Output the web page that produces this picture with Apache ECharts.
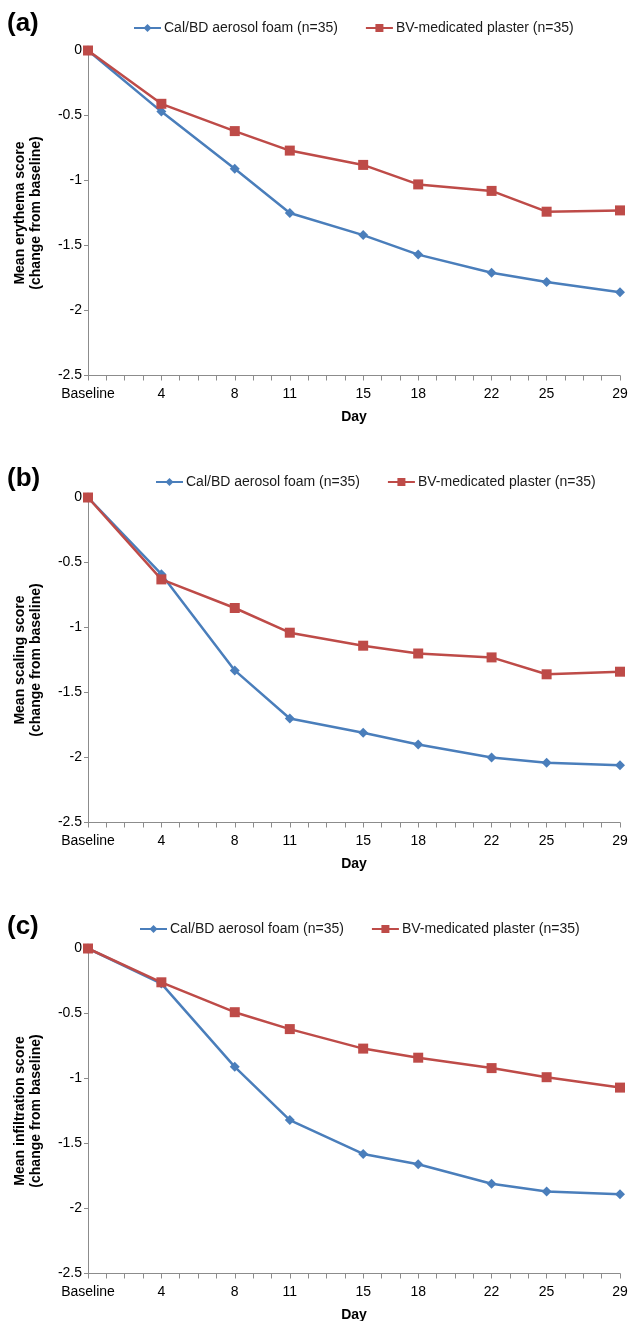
<!DOCTYPE html>
<html>
<head>
<meta charset="utf-8">
<script src="https://cdn.jsdelivr.net/npm/echarts@6/dist/echarts.min.js"></script>
<style>
  html, body { margin: 0; padding: 0; background: #fff; }
  #main { width: 628px; height: 1321px; }
</style>
</head>
<body>
<div id="main"></div>
<script>
// 数据：横轴为天（Baseline = 0）
var days = [0, 4, 8, 11, 15, 18, 22, 25, 29];
var seriesNames = ['Cal/BD aerosol foam (n=35)', 'BV-medicated plaster (n=35)'];
var panelLetters = ['(a)', '(b)', '(c)'];
var yAxisNames = [
    'Mean erythema score\n(change from baseline)',
    'Mean scaling score\n(change from baseline)',
    'Mean infiltration score\n(change from baseline)'
];

// (a) erythema
var erythemaFoam    = [0, -0.47, -0.91, -1.25, -1.42, -1.57, -1.71, -1.78, -1.86];
var erythemaPlaster = [0, -0.41, -0.62, -0.77, -0.88, -1.03, -1.08, -1.24, -1.23];
// (b) scaling
var scalingFoam     = [0, -0.59, -1.33, -1.70, -1.81, -1.90, -2.00, -2.04, -2.06];
var scalingPlaster  = [0, -0.63, -0.85, -1.04, -1.14, -1.20, -1.23, -1.36, -1.34];
// (c) infiltration
var infilFoam       = [0, -0.27, -0.91, -1.32, -1.58, -1.66, -1.81, -1.87, -1.89];
var infilPlaster    = [0, -0.26, -0.49, -0.62, -0.77, -0.84, -0.92, -0.99, -1.07];

var foamData = [erythemaFoam, scalingFoam, infilFoam];
var plasterData = [erythemaPlaster, scalingPlaster, infilPlaster];

var font = "'Liberation Sans', Arial, sans-serif";
var blue = '#4A7EBB';
var red = '#BE4B48';
var axisGray = '#8C8C8C';

var gridTops = [50.5, 497.5, 948.5];
var legendPos = [[128, 16], [150, 470], [134, 917]];
var letterTops = [6, 461, 909];

function pairs(vals) {
    var out = [];
    for (var i = 0; i < days.length; i++) out.push([days[i], vals[i]]);
    return out;
}

var grids = [], xAxes = [], yAxes = [], series = [], legends = [], titles = [];

for (var p = 0; p < 3; p++) {
    grids.push({ left: 88, width: 532, top: gridTops[p], height: 325, containLabel: false, outerBoundsMode: 'none' });

    titles.push({
        text: panelLetters[p],
        left: 2,
        top: letterTops[p],
        textStyle: { fontFamily: font, fontSize: 26, fontWeight: 'bold', color: '#000' }
    });

    legends.push({
        data: seriesNames,
        left: legendPos[p][0],
        top: legendPos[p][1],
        itemWidth: 27,
        itemHeight: 10,
        itemGap: 27,
        textStyle: { fontFamily: font, fontSize: 14, color: '#1a1a1a', padding: [0, 0, 0, -2] }
    });

    xAxes.push({
        type: 'value',
        gridIndex: p,
        min: 0,
        max: 29,
        interval: 1,
        name: 'Day',
        nameLocation: 'middle',
        nameGap: 35,
        nameTextStyle: { fontFamily: font, fontSize: 14, fontWeight: 'bold', color: '#000' },
        splitLine: { show: false },
        axisLine: { onZero: false, lineStyle: { color: axisGray, width: 1 } },
        axisTick: { length: 5, lineStyle: { color: axisGray } },
        axisLabel: {
            fontFamily: font,
            fontSize: 14,
            color: '#000',
            margin: 12,
            showMinLabel: true,
            showMaxLabel: true,
            formatter: function (v) {
                if (v === 0) return 'Baseline';
                return days.indexOf(v) >= 0 ? String(v) : '';
            }
        }
    });

    yAxes.push({
        type: 'value',
        gridIndex: p,
        min: -2.5,
        max: 0,
        interval: 0.5,
        name: yAxisNames[p],
        nameLocation: 'middle',
        nameRotate: 90,
        nameGap: 44,
        nameTextStyle: { fontFamily: font, fontSize: 14, fontWeight: 'bold', color: '#000', lineHeight: 16 },
        splitLine: { show: false },
        axisLine: { show: true, lineStyle: { color: axisGray, width: 1 } },
        axisTick: { show: true, length: 4, lineStyle: { color: axisGray } },
        axisLabel: { fontFamily: font, fontSize: 14, color: '#000', margin: 6 }
    });

    series.push({
        name: seriesNames[0],
        type: 'line',
        xAxisIndex: p,
        yAxisIndex: p,
        data: pairs(foamData[p]),
        symbol: 'diamond',
        symbolSize: 10,
        color: blue,
        lineStyle: { width: 2.5, color: blue },
        itemStyle: { color: blue },
        z: 2,
        animation: false
    });
    series.push({
        name: seriesNames[1],
        type: 'line',
        xAxisIndex: p,
        yAxisIndex: p,
        data: pairs(plasterData[p]),
        symbol: 'rect',
        symbolSize: 10,
        color: red,
        lineStyle: { width: 2.5, color: red },
        itemStyle: { color: red },
        z: 3,
        animation: false
    });
}

var myChart = echarts.init(document.getElementById('main'));
myChart.setOption({
    backgroundColor: '#fff',
    animation: false,
    title: titles,
    legend: legends,
    grid: grids,
    xAxis: xAxes,
    yAxis: yAxes,
    series: series
});
</script>
</body>
</html>
